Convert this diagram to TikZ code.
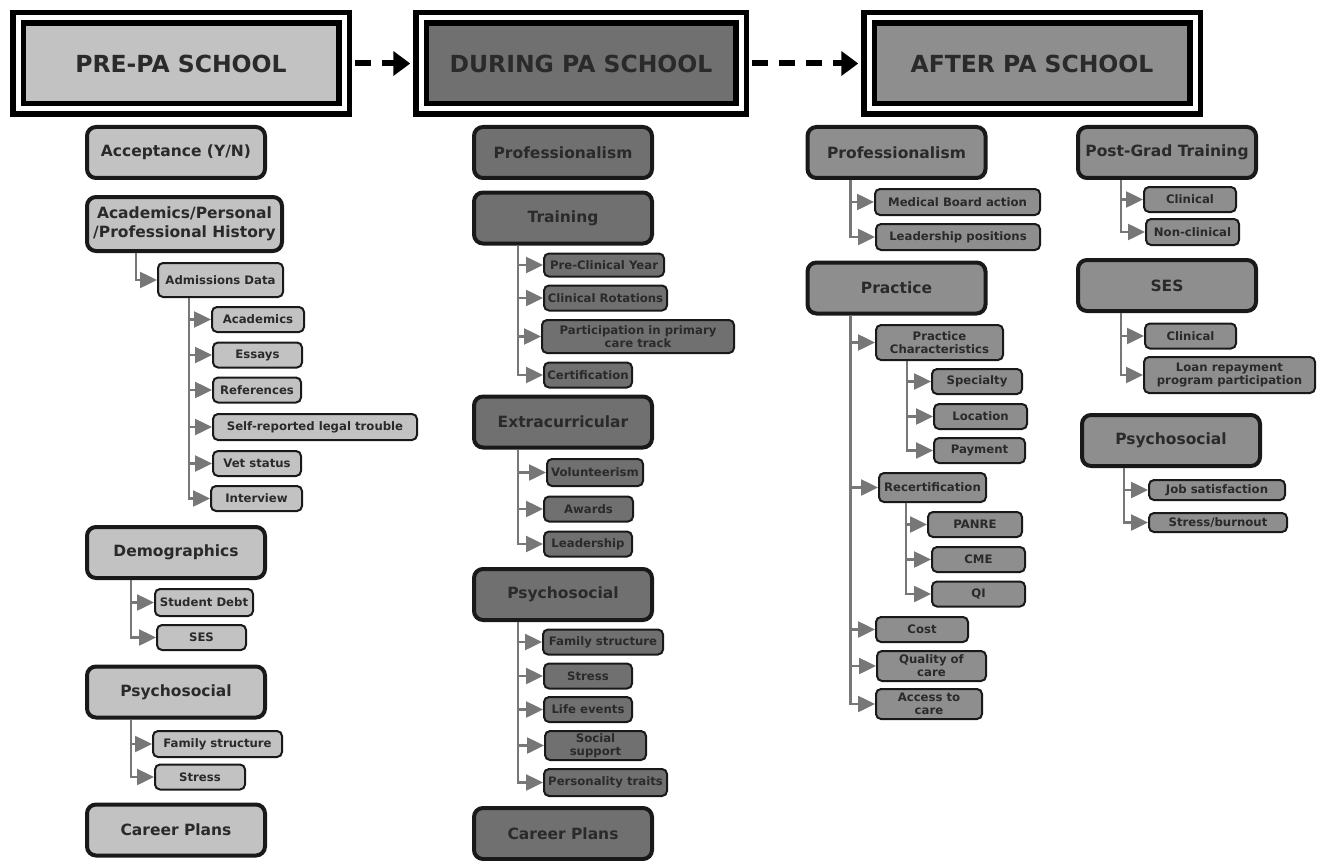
\documentclass[tikz,border=0pt]{standalone}
\usepackage{fontspec}
\setmainfont{DejaVu Sans}
\usetikzlibrary{arrows.meta}
\definecolor{prefill}{HTML}{C2C2C2}
\definecolor{durfill}{HTML}{707070}
\definecolor{postfill}{HTML}{8E8E8E}
\definecolor{linkgray}{HTML}{777777}
\definecolor{inkdark}{HTML}{2A2A2A}
\tikzset{
  stagebox/.style={draw=black, line width=5.5pt, double=white, double distance=5pt, fill=#1, minimum width=326pt, minimum height=91pt, text=inkdark, font=\bfseries\fontsize{23.5}{28}\selectfont},
  mainbox/.style={draw=black!90, line width=4pt, rounded corners=9pt, fill=#1, minimum width=178pt, minimum height=51pt, align=center, text=inkdark, font=\bfseries\fontsize{15.5}{19.5}\selectfont},
  subbox/.style={draw=black!90, line width=2pt, rounded corners=5pt, fill=#1, minimum height=25pt, inner sep=2pt, align=center, text=inkdark, font=\bfseries\fontsize{11.7}{13}\selectfont},
  link/.style={draw=linkgray, line width=2.5pt, -{Triangle[length=17pt,width=16pt]}},
  stagelink/.style={line width=6pt, dash pattern=on 16pt off 11pt, -{Triangle[length=17pt,width=24pt]}, shorten <=8pt, shorten >=8pt}
}
\begin{document}
\begin{tikzpicture}[x=1pt,y=-1pt]
\useasboundingbox (0,0) rectangle (1321,861);
\node[stagebox=prefill] (pre) at (181,63.5) {PRE-PA SCHOOL};
\node[stagebox=durfill, minimum width=320pt] (during) at (581,63.5) {DURING PA SCHOOL};
\node[stagebox=postfill] (after) at (1032,63.5) {AFTER PA SCHOOL};
\draw[stagelink] (pre) -- (during);
\draw[stagelink] (during) -- (after);

\node[mainbox=prefill] (accept) at (176,152.5) {Acceptance (Y/N)};
\node[mainbox=prefill, minimum width=195pt, minimum height=54pt] (history) at (184.5,224) {Academics/Personal\\/Professional History};
\node[subbox=prefill, minimum width=125pt, minimum height=34pt] (admis) at (220.5,280) {Admissions Data};
\node[subbox=prefill, minimum width=92pt] (academics) at (258,319.5) {Academics};
\node[subbox=prefill, minimum width=89pt] (essays) at (257.5,355) {Essays};
\node[subbox=prefill, minimum width=88pt] (refs) at (257,390) {References};
\node[subbox=prefill, minimum width=204pt, minimum height=26pt] (legal) at (315,427) {Self-reported legal trouble};
\node[subbox=prefill, minimum width=88pt] (vet) at (257,463.5) {Vet status};
\node[subbox=prefill, minimum width=91pt] (interview) at (256.5,498.5) {Interview};
\node[mainbox=prefill] (demo) at (176,552.5) {Demographics};
\node[subbox=prefill, minimum width=98pt, minimum height=27pt] (debt) at (204,602.5) {Student Debt};
\node[subbox=prefill, minimum width=89pt] (preses) at (201.5,637.5) {SES};
\node[mainbox=prefill] (prepsy) at (176,692) {Psychosocial};
\node[subbox=prefill, minimum width=129pt, minimum height=26pt] (prefamily) at (217.5,744) {Family structure};
\node[subbox=prefill, minimum width=90pt] (prestress) at (200,777) {Stress};
\node[mainbox=prefill] (precareer) at (176,830) {Career Plans};

\draw[link] ([xshift=51pt]history.south west) |- (admis.west);
\draw[link] ([xshift=32pt]admis.south west) |- (academics.west);
\draw[link] ([xshift=32pt]admis.south west) |- (essays.west);
\draw[link] ([xshift=32pt]admis.south west) |- (refs.west);
\draw[link] ([xshift=32pt]admis.south west) |- (legal.west);
\draw[link] ([xshift=32pt]admis.south west) |- (vet.west);
\draw[link] ([xshift=32pt]admis.south west) |- (interview.west);
\draw[link] ([xshift=46pt]demo.south west) |- (debt.west);
\draw[link] ([xshift=46pt]demo.south west) |- (preses.west);
\draw[link] ([xshift=46pt]prepsy.south west) |- (prefamily.west);
\draw[link] ([xshift=46pt]prepsy.south west) |- (prestress.west);

\node[mainbox=durfill] (durprof) at (563,152.5) {Professionalism};
\node[mainbox=durfill] (training) at (563,218) {Training};
\node[subbox=durfill, minimum width=120pt, minimum height=23pt] (preclin) at (604,265) {Pre-Clinical Year};
\node[subbox=durfill, minimum width=123pt] (rotations) at (605.5,298) {Clinical Rotations};
\node[subbox=durfill, minimum width=192pt, minimum height=33pt] (primary) at (638,336.5) {Participation in primary\\care track};
\node[subbox=durfill, minimum width=88pt] (cert) at (588,375) {Certification};
\node[mainbox=durfill] (extra) at (563,422) {Extracurricular};
\node[subbox=durfill, minimum width=96pt, minimum height=27pt] (volun) at (595,472.5) {Volunteerism};
\node[subbox=durfill, minimum width=89pt] (awards) at (588.5,509) {Awards};
\node[subbox=durfill, minimum width=88pt] (durlead) at (588,544) {Leadership};
\node[mainbox=durfill] (durpsy) at (563,594.5) {Psychosocial};
\node[subbox=durfill, minimum width=120pt] (durfamily) at (603,642) {Family structure};
\node[subbox=durfill, minimum width=88pt] (durstress) at (588,676) {Stress};
\node[subbox=durfill, minimum width=88pt] (life) at (588,709.5) {Life events};
\node[subbox=durfill, minimum width=101pt, minimum height=29pt] (social) at (595.5,745.5) {Social\\support};
\node[subbox=durfill, minimum width=123pt, minimum height=27pt] (traits) at (605.5,782.5) {Personality traits};
\node[mainbox=durfill] (durcareer) at (563,833.5) {Career Plans};

\draw[link] ([xshift=46pt]training.south west) |- (preclin.west);
\draw[link] ([xshift=46pt]training.south west) |- (rotations.west);
\draw[link] ([xshift=46pt]training.south west) |- (primary.west);
\draw[link] ([xshift=46pt]training.south west) |- (cert.west);
\draw[link] ([xshift=46pt]extra.south west) |- (volun.west);
\draw[link] ([xshift=46pt]extra.south west) |- (awards.west);
\draw[link] ([xshift=46pt]extra.south west) |- (durlead.west);
\draw[link] ([xshift=46pt]durpsy.south west) |- (durfamily.west);
\draw[link] ([xshift=46pt]durpsy.south west) |- (durstress.west);
\draw[link] ([xshift=46pt]durpsy.south west) |- (life.west);
\draw[link] ([xshift=46pt]durpsy.south west) |- (social.west);
\draw[link] ([xshift=46pt]durpsy.south west) |- (traits.west);

\node[mainbox=postfill] (postprof) at (896.5,152.5) {Professionalism};
\node[subbox=postfill, minimum width=165pt, minimum height=26pt] (board) at (957.5,202) {Medical Board action};
\node[subbox=postfill, minimum width=164pt, minimum height=26pt] (leadpos) at (958,237) {Leadership positions};
\node[mainbox=postfill] (practice) at (896.5,288) {Practice};
\node[subbox=postfill, minimum width=127pt, minimum height=35pt] (pracchar) at (939.5,342.5) {Practice\\Characteristics};
\node[subbox=postfill, minimum width=90pt] (specialty) at (977,381.5) {Specialty};
\node[subbox=postfill, minimum width=93pt] (location) at (980.5,416.5) {Location};
\node[subbox=postfill, minimum width=91pt] (payment) at (979.5,450.5) {Payment};
\node[subbox=postfill, minimum width=107pt, minimum height=29pt] (recert) at (932.5,487.5) {Recertification};
\node[subbox=postfill, minimum width=94pt] (panre) at (975,524.5) {PANRE};
\node[subbox=postfill, minimum width=93pt] (cme) at (978.5,559.5) {CME};
\node[subbox=postfill, minimum width=93pt] (qi) at (978.5,594) {QI};
\node[subbox=postfill, minimum width=92pt] (cost) at (922,629.5) {Cost};
\node[subbox=postfill, minimum width=109pt, minimum height=30pt] (quality) at (931.5,666) {Quality of\\care};
\node[subbox=postfill, minimum width=106pt, minimum height=30pt] (access) at (929,704) {Access to\\care};

\draw[link] ([xshift=45pt]postprof.south west) |- (board.west);
\draw[link] ([xshift=45pt]postprof.south west) |- (leadpos.west);
\draw[link] ([xshift=45pt]practice.south west) |- (pracchar.west);
\draw[link] ([xshift=45pt]practice.south west) |- (recert.west);
\draw[link] ([xshift=45pt]practice.south west) |- (cost.west);
\draw[link] ([xshift=45pt]practice.south west) |- (quality.west);
\draw[link] ([xshift=45pt]practice.south west) |- (access.west);
\draw[link] ([xshift=32pt]pracchar.south west) |- (specialty.west);
\draw[link] ([xshift=32pt]pracchar.south west) |- (location.west);
\draw[link] ([xshift=32pt]pracchar.south west) |- (payment.west);
\draw[link] ([xshift=28pt]recert.south west) |- (panre.west);
\draw[link] ([xshift=28pt]recert.south west) |- (cme.west);
\draw[link] ([xshift=28pt]recert.south west) |- (qi.west);

\node[mainbox=postfill] (postgrad) at (1167,152.5) {Post-Grad Training};
\node[subbox=postfill, minimum width=92pt] (clinical) at (1190,199.5) {Clinical};
\node[subbox=postfill, minimum width=93pt, minimum height=26pt] (nonclin) at (1192.5,232) {Non-clinical};
\node[mainbox=postfill] (postses) at (1167,285.5) {SES};
\node[subbox=postfill, minimum width=91pt] (sesclin) at (1190.5,336) {Clinical};
\node[subbox=postfill, minimum width=171pt, minimum height=36pt] (loan) at (1229.5,375) {Loan repayment\\program participation};
\node[mainbox=postfill] (postpsy) at (1171,440.5) {Psychosocial};
\node[subbox=postfill, minimum width=136pt, minimum height=20pt] (jobsat) at (1217,490) {Job satisfaction};
\node[subbox=postfill, minimum width=138pt, minimum height=19pt] (burnout) at (1218,522.5) {Stress/burnout};

\draw[link] ([xshift=45pt]postgrad.south west) |- (clinical.west);
\draw[link] ([xshift=45pt]postgrad.south west) |- (nonclin.west);
\draw[link] ([xshift=45pt]postses.south west) |- (sesclin.west);
\draw[link] ([xshift=45pt]postses.south west) |- (loan.west);
\draw[link] ([xshift=44pt]postpsy.south west) |- (jobsat.west);
\draw[link] ([xshift=44pt]postpsy.south west) |- (burnout.west);
\end{tikzpicture}
\end{document}
